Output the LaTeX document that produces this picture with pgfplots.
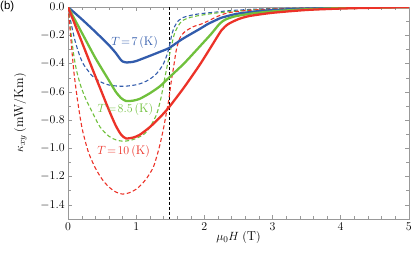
\documentclass[border=0pt]{standalone}
\usepackage{fontspec}
\newfontfamily\labfont{Liberation Sans}
\usepackage{pgfplots}
\pgfplotsset{compat=1.18}
\usetikzlibrary{calc}
\definecolor{cblue}{RGB}{50,92,172}
\definecolor{cgreen}{RGB}{112,192,60}
\definecolor{cred}{RGB}{236,50,40}
\begin{document}
\begin{tikzpicture}
\begin{axis}[
  name=ax,
  scale only axis, width=341.7bp, height=212.3bp,
  xmin=0, xmax=5, ymin=-1.5, ymax=0,
  xtick={0,1,2,3,4,5}, minor x tick num=4,
  ytick={-1.4,-1.2,-1.0,-0.8,-0.6,-0.4,-0.2,0}, minor y tick num=1,
  yticklabel style={/pgf/number format/fixed,/pgf/number format/fixed zerofill,/pgf/number format/precision=1},
  tick label style={font=\fontsize{11.5}{13}\selectfont},
  tick align=inside, major tick length=4bp, minor tick length=2.5bp,
  axis line style={gray!80}, every tick/.style={gray!80, line width=0.4pt},
  xlabel={$\mu_0H\;(\mathrm{T})$}, ylabel={$\kappa_{xy}\;(\mathrm{mW/Km})$},
  label style={font=\fontsize{13}{15}\selectfont},
  xlabel style={at={(axis description cs:0.5,-0.09)}, anchor=center},
  ylabel style={at={(axis description cs:-0.14,0.5)}, anchor=center},
  clip=true,
]
% vertical line
\addplot[black, dashed, line width=0.6pt, dash pattern=on 3bp off 2bp] coordinates {(1.48,0) (1.48,-1.5)};
% dashed curves
\addplot[cblue, line width=1.1pt, dash pattern=on 4bp off 2.5bp, smooth, tension=0.5] coordinates {
(0,0) (0.03,-0.08) (0.06,-0.15) (0.1,-0.235) (0.16,-0.33) (0.22,-0.40) (0.3,-0.455) (0.37,-0.495) (0.5,-0.535) (0.61,-0.553) (0.75,-0.56) (0.85,-0.56) (1.0,-0.55) (1.1,-0.535) (1.2,-0.51) (1.3,-0.47) (1.39,-0.41) (1.45,-0.34) (1.49,-0.27) (1.52,-0.2) (1.56,-0.14) (1.62,-0.095) (1.68,-0.075) (1.8,-0.058) (1.93,-0.047) (2.17,-0.035) (2.42,-0.023) (3,-0.01) (4,-0.003) (5,0)};
\addplot[cgreen, line width=1.1pt, dash pattern=on 4bp off 2.5bp, smooth, tension=0.5] coordinates {
(0,0) (0.04,-0.17) (0.08,-0.33) (0.12,-0.44) (0.18,-0.55) (0.25,-0.64) (0.33,-0.72) (0.47,-0.85) (0.6,-0.915) (0.7,-0.94) (0.8,-0.95) (0.9,-0.945) (1.0,-0.93) (1.15,-0.885) (1.29,-0.77) (1.36,-0.65) (1.42,-0.5) (1.47,-0.38) (1.52,-0.27) (1.56,-0.19) (1.62,-0.13) (1.68,-0.095) (1.8,-0.072) (1.93,-0.059) (2.17,-0.042) (2.5,-0.027) (3,-0.013) (4,-0.004) (5,0)};
\addplot[cred, line width=1.1pt, dash pattern=on 4bp off 2.5bp, smooth, tension=0.5] coordinates {
(0,0) (0.04,-0.22) (0.083,-0.45) (0.13,-0.63) (0.18,-0.79) (0.22,-0.89) (0.3,-1.03) (0.4,-1.14) (0.5,-1.22) (0.6,-1.275) (0.7,-1.31) (0.8,-1.325) (0.9,-1.315) (1.0,-1.29) (1.07,-1.26) (1.15,-1.215) (1.245,-1.14) (1.3,-1.06) (1.35,-0.97) (1.4,-0.86) (1.45,-0.73) (1.48,-0.65) (1.51,-0.54) (1.55,-0.42) (1.59,-0.3) (1.64,-0.22) (1.7,-0.18) (1.83,-0.14) (1.98,-0.115) (2.22,-0.06) (2.41,-0.035) (2.8,-0.018) (3.5,-0.007) (5,0)};
% solid curves
\addplot[cblue, line width=2.3pt, smooth, tension=0.4] coordinates {
(0,0) (0.2,-0.085) (0.4,-0.175) (0.6,-0.27) (0.7,-0.325) (0.76,-0.365) (0.8,-0.385) (0.86,-0.392) (0.95,-0.388) (1.0,-0.382) (1.2,-0.345) (1.34,-0.318) (1.48,-0.29) (1.68,-0.225) (1.93,-0.155) (2.05,-0.12) (2.17,-0.092) (2.25,-0.075) (2.47,-0.048) (2.8,-0.028) (3.2,-0.016) (3.6,-0.009) (4,-0.004) (4.5,-0.001) (5,0)};
\addplot[cgreen, line width=2.3pt, smooth, tension=0.4] coordinates {
(0,0) (0.2,-0.18) (0.4,-0.36) (0.6,-0.52) (0.7,-0.6) (0.78,-0.645) (0.85,-0.665) (0.95,-0.663) (1.05,-0.65) (1.2,-0.61) (1.35,-0.56) (1.48,-0.5) (1.7,-0.4) (1.93,-0.28) (2.1,-0.19) (2.22,-0.12) (2.3,-0.09) (2.45,-0.065) (2.7,-0.045) (3,-0.03) (3.5,-0.015) (4,-0.007) (4.5,-0.003) (5,0)};
\addplot[cred, line width=2.3pt, smooth, tension=0.4] coordinates {
(0,0) (0.2,-0.245) (0.4,-0.49) (0.6,-0.73) (0.7,-0.84) (0.78,-0.905) (0.85,-0.93) (0.95,-0.925) (1.05,-0.905) (1.2,-0.85) (1.35,-0.78) (1.48,-0.71) (1.7,-0.57) (1.93,-0.41) (2.1,-0.28) (2.25,-0.165) (2.35,-0.12) (2.5,-0.085) (2.66,-0.063) (3,-0.04) (3.5,-0.02) (4,-0.01) (4.5,-0.004) (5,0)};
% labels
\node[cblue, font=\fontsize{12.5}{14}\selectfont] at (axis cs:0.976,-0.253) {$T\!=\!7\,(\mathrm{K})$};
\node[cgreen, font=\fontsize{12.5}{14}\selectfont] at (axis cs:0.84,-0.723) {$T\!=\!8.5\,(\mathrm{K})$};
\node[cred, font=\fontsize{12.5}{14}\selectfont] at (axis cs:0.815,-1.025) {$T\!=\!10\,(\mathrm{K})$};
\end{axis}
\node[anchor=north west, inner sep=0pt, font=\labfont\fontsize{11.5}{13}\selectfont] at ($(ax.north west)+(-68.3bp,6.2bp)$) {(b)};
\path ($(ax.south west)+(-68.3bp,-34bp)$) rectangle ($(ax.north east)+(5bp,6.7bp)$);
\end{tikzpicture}
\end{document}
